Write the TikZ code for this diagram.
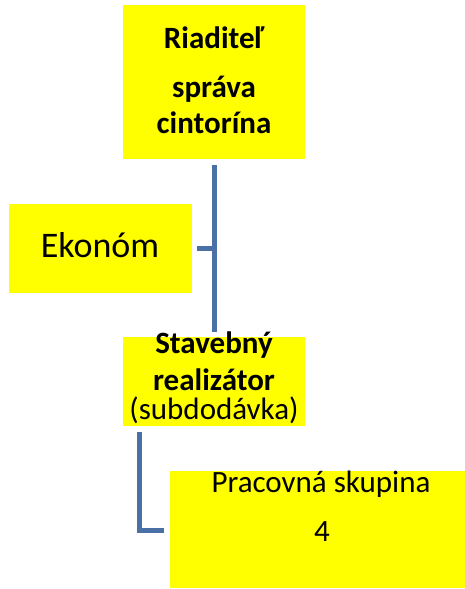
\documentclass[tikz,border=0pt]{standalone}
\usepackage{fontspec}
\setmainfont{Carlito}
\definecolor{boxyellow}{HTML}{FFFF00}
\definecolor{linkblue}{HTML}{4A70A6}
\begin{document}
\begin{tikzpicture}[x=1pt,y=1pt,
 box/.style={fill=boxyellow, draw=none, inner sep=0pt, anchor=north west},
 link/.style={draw=linkblue, line width=5pt},
 lbl/.style={anchor=base, inner sep=0pt, font=\fontsize{31}{36}\selectfont},
 lblb/.style={anchor=base, inner sep=0pt, font=\fontsize{31}{36}\selectfont\bfseries}]
\useasboundingbox (0,0) rectangle (465,-589);
% boxes
\node[box, minimum width=182pt, minimum height=154pt] (dir) at (123,-5) {};
\node[box, minimum width=183pt, minimum height=89pt] (eko) at (9,-204) {};
\node[box, minimum width=182pt, minimum height=89pt] (stav) at (123,-337) {};
\node[box, minimum width=295pt, minimum height=117pt] (prac) at (170,-471) {};
% texts
\node[lblb] (t1) at (214,-48) {Riaditeľ};
\node[lblb] (t2) at (214,-97) {správa};
\node[lblb] (t3) at (214,-133) {cintorína};
\node[anchor=base, inner sep=0pt, font=\fontsize{36}{40}\selectfont] (t4) at (100,-257) {Ekonóm};
\node[lblb] (t5) at (214,-353) {Stavebný};
\node[lblb] (t6) at (214,-390) {realizátor};
\node[lbl] (t7) at (214,-419) {(subdodávka)};
\node[lbl] (t8) at (321,-492) {Pracovná skupina};
\node[lbl] (t9) at (322,-541) {4};
% connectors
\coordinate (a1) at ([yshift=-6pt]dir.south);
\coordinate (a2) at ([yshift=5pt]stav.north);
\draw[link] (a1) -- (a2);
\coordinate (e1) at ([xshift=5pt]eko.east);
\coordinate (e2) at (a1 |- e1);
\draw[link] (e1) -- ([xshift=-2.5pt]e2);
\coordinate (s1) at ([xshift=16pt,yshift=-6pt]stav.south west);
\coordinate (p1) at ([xshift=-6pt,yshift=-59pt]prac.north west);
\draw[link] (s1) |- (p1);
\end{tikzpicture}
\end{document}
